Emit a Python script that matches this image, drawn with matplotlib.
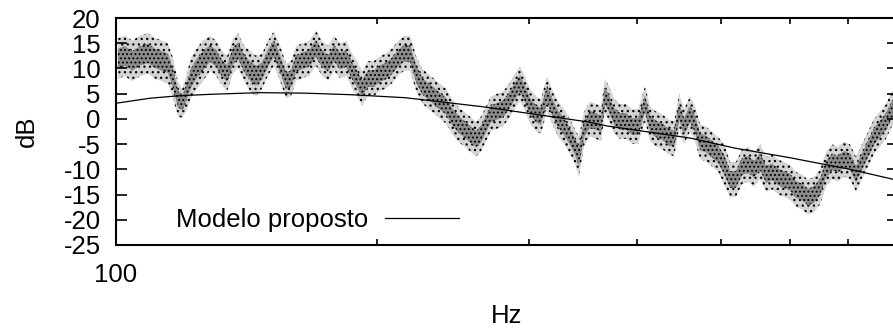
import matplotlib
matplotlib.use("Agg")
import matplotlib.pyplot as plt
import numpy as np

plt.rcParams['font.family'] = ['Liberation Sans', 'DejaVu Sans']
plt.rcParams['hatch.linewidth'] = 0.9

# Measured response: local level of the point cloud and its half-width (dB)
freq_hz = [100.5, 102.4, 104.4, 106.6, 108.9, 110.9, 113.0, 114.8, 116.4, 117.9,
           119.2, 120.5, 122.0, 124.0, 126.0, 128.4, 130.5, 132.6, 134.4, 136.5,
           138.4, 140.6, 142.8, 145.1, 147.5, 149.8, 152.2, 154.7, 157.2, 159.3,
           161.4, 164.0, 167.1, 170.2, 172.9, 175.8, 178.6, 181.5, 184.4, 187.4,
           189.8, 192.4, 195.4, 198.6, 201.8, 205.0, 208.3, 211.7, 215.1, 218.6,
           222.1, 225.7, 229.3, 233.0, 236.7, 240.5, 244.4, 248.3, 252.3, 256.4,
           260.5, 264.0, 267.5, 271.1, 275.4, 279.9, 284.4, 288.9, 292.8, 296.7,
           300.7, 305.5, 309.6, 314.6, 318.8, 323.9, 329.1, 334.4, 338.9, 342.5,
           347.1, 352.7, 358.4, 363.2, 367.1, 371.0, 376.0, 382.0, 388.2, 394.4,
           400.8, 408.3, 413.8, 420.4, 427.2, 434.1, 441.1, 447.0, 453.0, 460.3,
           466.4, 472.6, 480.2, 487.9, 495.7, 503.7, 511.8, 520.0, 528.4, 536.9,
           545.5, 554.3, 563.2, 572.3, 581.5, 590.8, 600.3, 610.0, 619.8, 629.8,
           639.9, 650.2, 660.6, 671.3, 682.1, 693.0, 704.2, 715.5, 727.0, 738.7,
           750.6, 762.6, 774.9, 787.3, 800.0]
level_db = [12, 12.5, 11.5, 12.5, 13, 12, 11.5, 11, 8, 4,
            3, 5, 8, 10, 11.5, 13, 12, 10, 9, 12.5,
            13.5, 11, 9.5, 8.5, 9.5, 12, 14, 11, 7.5, 8,
            11, 11.5, 12, 14, 12, 11, 13, 11.5, 12, 9.5,
            8, 6, 8, 8, 9, 9.5, 10.5, 12, 13, 13,
            9, 6.5, 5.5, 4.5, 3.5, 2.5, 0.5, -1, -2, -3,
            -4, -3, -1, 1, 1.5, 2, 3.5, 5.5, 7, 5,
            2.5, 1, 0.5, 5, 2.5, 0, -1.5, -3.5, -5.5, -7.5,
            -2, 0, -0.5, -1, 4.5, 3, 0.5, -0.5, -0.5, -1.5,
            -1.5, 3, -1, -2, -2.5, -3.5, -4, 1.5, -1.5, 1,
            -1, -4.5, -5, -6, -7, -9, -12, -12, -9.5, -9,
            -10, -8.5, -11, -10.5, -11.5, -12, -12.5, -14, -14.5, -15.5,
            -15, -13.5, -10, -8.5, -9, -8, -8.5, -11, -8.5, -6,
            -3.5, -2, -0.5, 2, 3]
spread_db = [3.5, 3.5, 3.5, 3.5, 3.5, 3.5, 3.5, 3.5, 3.5, 3,
             2.5, 3, 3.5, 3.5, 3.5, 3, 3, 3, 3, 3,
             3, 3, 3.5, 3.5, 3, 3, 3, 3, 3, 3,
             3, 3, 3, 3, 3, 3, 3, 3, 3, 3,
             3, 3, 3, 3, 3, 3, 3, 3, 3, 3,
             3, 3, 3, 3, 3, 3, 3, 3, 3, 3,
             3, 3, 3, 3, 3, 3, 3, 3, 3, 3,
             3, 3, 3, 3, 3, 3, 3, 3, 3, 3.5,
             3, 3, 3, 3, 3, 3, 3, 3, 3, 3,
             3, 3, 3, 3, 3, 3, 3, 3, 3, 3,
             3, 3, 3, 3, 3, 3.5, 3, 3, 3, 3,
             3, 3, 3, 3, 3, 3, 3, 3, 3, 3,
             3, 3, 3, 3, 3, 3, 3, 3, 3, 3,
             3, 3, 3, 3, 3]

# Proposed model
model_hz = [100, 109.5, 118.5, 129.8, 146.6, 165.3, 186.4, 215.7, 265.4,
            296.7, 350.8, 369.0, 460.3, 518.6, 600.3, 704.2, 800]
model_db = [3.1, 4.1, 4.6, 4.9, 5.2, 5.1, 4.8, 4.2, 2.4,
            1.2, -0.6, -1.4, -3.8, -5.8, -7.7, -10.0, -12.2]

y_ticks = [-25, -20, -15, -10, -5, 0, 5, 10, 15, 20]
x_minor_ticks = [200, 300, 400, 500, 600, 700]

fs = 18.5

fig = plt.figure(figsize=(8.93, 3.28), dpi=100)
ax = fig.add_axes([116 / 893, 83 / 328, 782 / 893, 227 / 328])

f = np.array(freq_hz)
m = np.array(level_db)
s = np.array(spread_db)

# point cloud drawn as stippled bands, darker near the local level
for k, face, hatch in [(1.15, '#d4d4d4', '...'), (0.55, '#8c8c8c', '....')]:
    ax.fill_between(f, m - k * s, m + k * s, facecolor=face,
                    edgecolor='#000000', hatch=hatch, linewidth=0)

ax.plot(model_hz, model_db, color='black', linewidth=0.9,
        label='Modelo proposto')

ax.set_xscale('log')
ax.set_xlim(100, 800)
ax.set_ylim(-25, 20)
ax.set_xticks([100])
ax.set_xticklabels(['100'])
ax.set_xticks(x_minor_ticks, minor=True)
ax.set_xticklabels([], minor=True)
ax.set_yticks(y_ticks)
ax.set_yticklabels([str(v) for v in y_ticks])

for sp in ax.spines.values():
    sp.set_linewidth(1.5)

ax.tick_params(axis='y', which='major', direction='in', length=8, width=1.2,
               right=True, labelsize=fs, pad=11)
ax.tick_params(axis='x', which='major', direction='in', length=8, width=1.2,
               top=True, labelsize=fs, pad=13)
ax.tick_params(axis='x', which='minor', direction='in', length=4.5, width=1.2,
               top=True)

ax.set_xlabel('Hz', fontsize=fs, labelpad=12)
ax.set_ylabel('dB', fontsize=fs, labelpad=18)

ax.legend(loc='lower left', bbox_to_anchor=(0.05, -0.035), frameon=False,
          markerfirst=False, fontsize=fs, handlelength=2.9,
          handletextpad=0.65, borderaxespad=0.4)

fig.savefig('out.png', dpi=100)
